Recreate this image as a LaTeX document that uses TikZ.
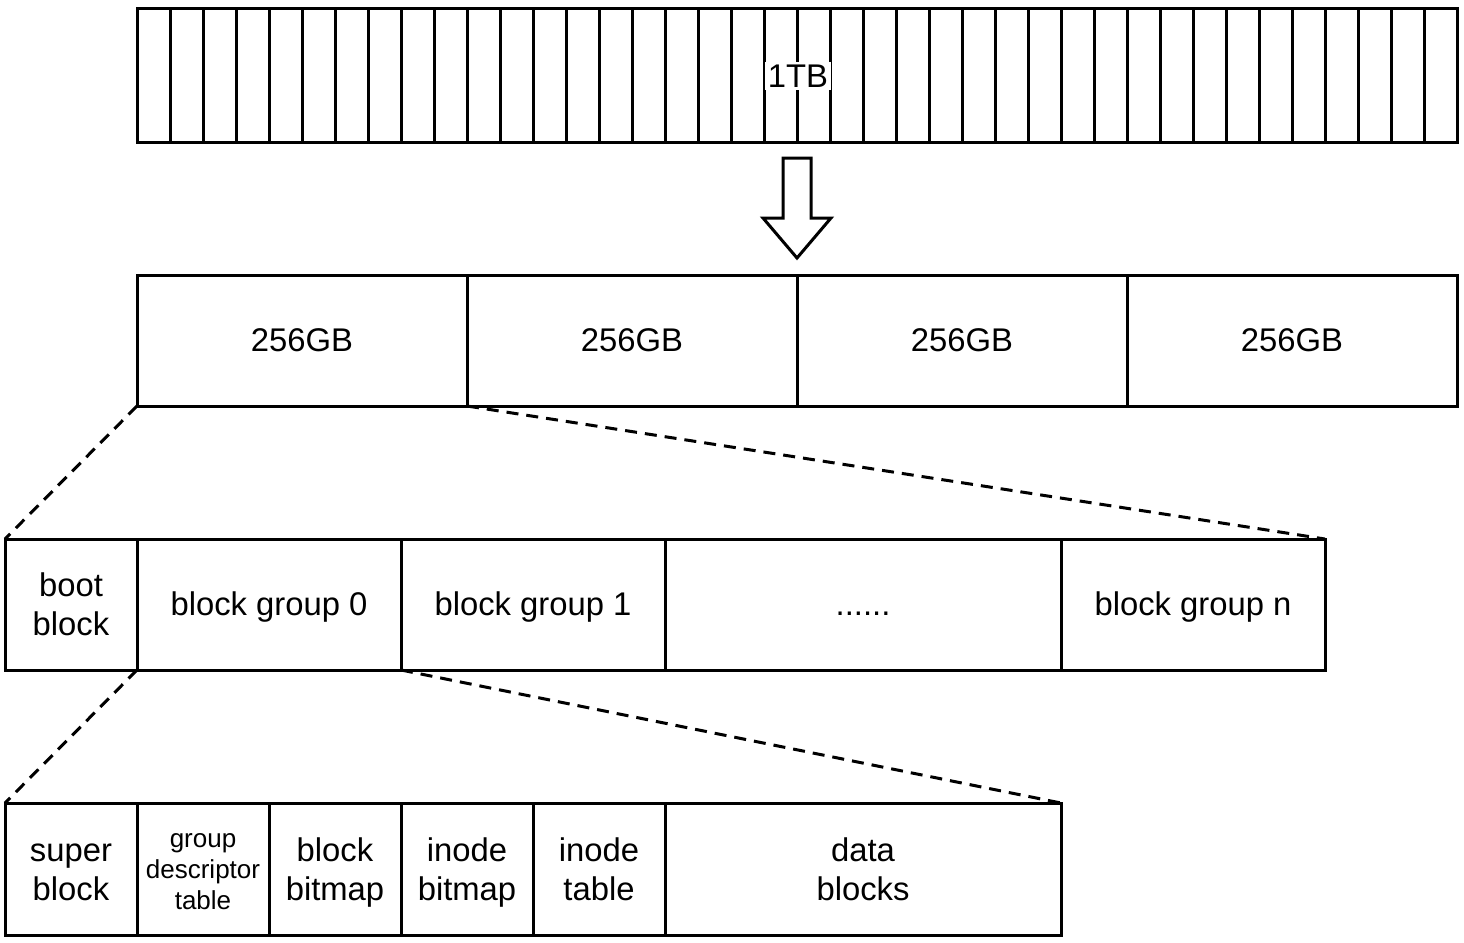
\documentclass[tikz,border=0pt]{standalone}
\usepackage{fontspec}
\setmainfont{Liberation Sans}
\usetikzlibrary{positioning}
\begin{document}
\begin{tikzpicture}[x=0.5pt,y=-0.5pt,line width=1.5pt,
    cell/.style={draw,outer sep=0pt,inner sep=0pt,minimum height=65.5pt,align=center,font=\fontsize{16.4}{19.5}\selectfont,
        text height=12pt,text depth=0.8pt},
    twolines/.style={text height=31.5pt,text depth=0.2pt},
    small/.style={font=\fontsize{13}{15.4}\selectfont,text height=40.3pt,text depth=0.2pt},
    zoomline/.style={dash pattern=on 6pt off 4pt}]
    \useasboundingbox (0,0) rectangle (1464,943);

%The whole disk

    \foreach \i in {1,...,40}
        \node[draw,outer sep=0pt,minimum width=16.5pt,minimum height=67pt] (c\i) at (120.5+33*\i,75) {};
    \node[fill=white,inner sep=1.5pt,font=\fontsize{16.4}{20}\selectfont] (disk) at (798,76) {1TB};

%Split arrow

    \draw (783,158) -- (811,158) -- (811,218) -- (831,218) -- (797,258) -- (763,218) -- (783,218) -- cycle;

%Partitions

    \node[cell,minimum width=165pt] (p1) at (302,340.5) {256GB};
    \node[cell,minimum width=165pt,right=0pt of p1] (p2) {256GB};
    \node[cell,minimum width=165pt,right=0pt of p2] (p3) {256GB};
    \node[cell,minimum width=165pt,right=0pt of p3] (p4) {256GB};

%%Block groups of one partition
    \node[cell,twolines,minimum width=66pt] (boot) at (71,604.5) {boot\\block};
    \node[cell,minimum width=132pt,right=0pt of boot] (bg0) {block group 0};
    \node[cell,minimum width=132pt,right=0pt of bg0] (bg1) {block group 1};
    \node[cell,minimum width=198pt,right=0pt of bg1] (dots) {......};
    \node[cell,minimum width=132pt,right=0pt of dots] (bgn) {block group n};

%Inside one block group
    \node[cell,twolines,minimum width=66pt,minimum height=66pt] (super) at (71,869) {super\\block};
    \node[cell,small,minimum width=66pt,minimum height=66pt,right=0pt of super] (gdt) {group\\descriptor\\table};
    \node[cell,twolines,minimum width=66pt,minimum height=66pt,right=0pt of gdt] (bbmp) {block\\bitmap};
    \node[cell,twolines,minimum width=66pt,minimum height=66pt,right=0pt of bbmp] (ibmp) {inode\\bitmap};
    \node[cell,twolines,minimum width=66pt,minimum height=66pt,right=0pt of ibmp] (itab) {inode\\table};
    \node[cell,twolines,minimum width=198pt,minimum height=66pt,right=0pt of itab] (data) {data\\blocks};

%Zoom lines
    \draw[zoomline] (p1.south west) -- (boot.north west);
    \draw[zoomline] (p1.south east) -- (bgn.north east);
    \draw[zoomline] (bg0.south west) -- (super.north west);
    \draw[zoomline] (bg0.south east) -- (data.north east);

\end{tikzpicture}
\end{document}
